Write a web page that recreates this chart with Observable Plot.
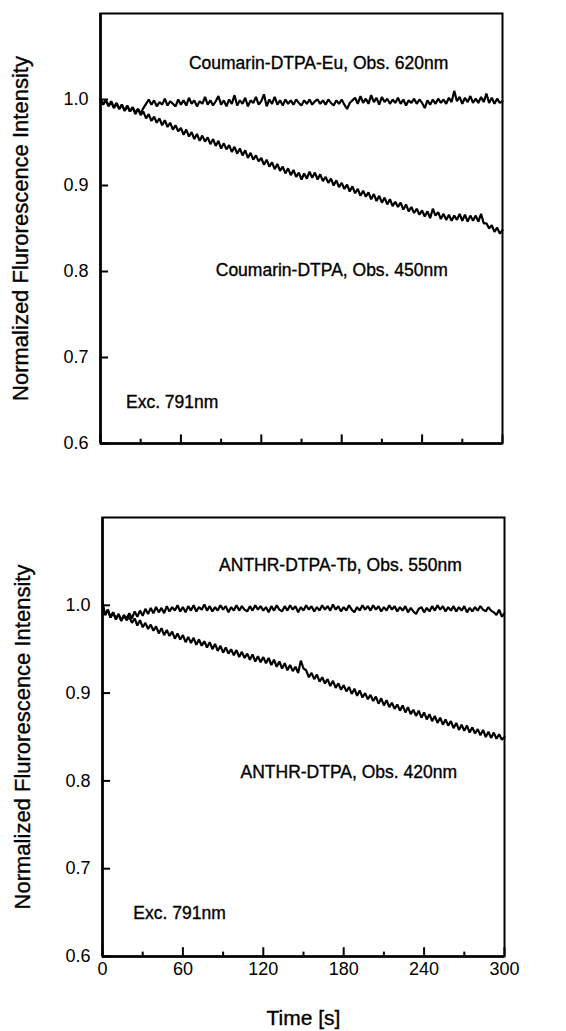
<!DOCTYPE html>
<html><head><meta charset="utf-8">
<script src="https://cdn.jsdelivr.net/npm/d3@7"></script>
<script src="https://cdn.jsdelivr.net/npm/@observablehq/plot@0.6"></script>
<style>
body{margin:0;background:#fff}
#chart{width:566px;height:1031px;position:relative;overflow:hidden}
#chart svg{display:block}
</style>
</head><body><div id="chart"></div>
<script>
// Time axis: 0..300 s, samples evenly spaced (every 2 s) over the run
const xTicks = [0, 60, 120, 180, 240, 300];
const xMinorTicks = [30, 90, 150, 210, 270];
const yTicks = [0.6, 0.7, 0.8, 0.9, 1.0];

// Top panel: Coumarin-DTPA-Eu (Obs. 620nm)
const coumEu620 = [
1.000,0.995,0.999,0.992,0.997,0.990,0.995,0.989,0.994,0.987,
0.992,0.986,0.991,0.985,0.989,0.984,0.990,0.995,1.000,0.994,
0.999,0.992,0.997,0.994,1.001,0.993,0.998,0.995,0.992,1.000,
0.994,0.999,0.993,1.002,0.995,0.999,0.992,0.998,0.995,1.003,
0.994,0.999,0.993,0.998,1.004,0.994,0.999,0.992,1.000,0.995,
1.005,0.993,0.999,0.995,1.002,0.992,0.999,0.996,1.003,0.994,
0.998,1.006,0.992,1.000,0.995,1.003,0.994,0.999,0.993,1.000,
0.995,0.999,0.994,1.000,0.996,0.993,0.999,0.995,1.000,0.994,
0.998,1.000,0.995,0.999,0.994,1.000,0.996,0.993,0.999,0.995,
1.000,0.994,0.989,0.996,0.999,1.002,0.995,1.004,0.996,1.001,
0.995,1.005,0.997,1.002,0.994,1.003,0.997,1.001,0.995,1.000,
0.996,1.002,0.995,1.000,0.993,0.999,0.996,1.001,0.995,1.000,
0.996,0.990,0.999,0.994,1.000,0.995,1.001,0.996,1.000,0.995,
1.002,0.997,1.010,0.998,1.003,0.995,1.002,0.997,1.004,0.996,
1.001,0.996,1.003,0.997,1.007,0.996,1.002,0.995,1.001,0.996,
0.998];
// Top panel: Coumarin-DTPA (Obs. 450nm)
const coum450 = [
1.000,0.994,0.999,0.993,0.998,0.991,0.996,0.989,0.994,0.987,
0.993,0.986,0.991,0.983,0.989,0.982,0.986,0.978,0.983,0.975,
0.980,0.973,0.978,0.970,0.976,0.968,0.973,0.965,0.970,0.963,
0.967,0.959,0.965,0.957,0.962,0.954,0.960,0.952,0.958,0.951,
0.956,0.948,0.954,0.946,0.952,0.943,0.949,0.942,0.947,0.939,
0.945,0.937,0.943,0.935,0.941,0.932,0.938,0.930,0.935,0.928,
0.932,0.924,0.930,0.922,0.927,0.919,0.925,0.917,0.922,0.914,
0.920,0.912,0.918,0.910,0.915,0.907,0.914,0.908,0.916,0.909,
0.915,0.907,0.913,0.905,0.910,0.903,0.908,0.900,0.906,0.898,
0.903,0.896,0.901,0.893,0.899,0.891,0.896,0.888,0.894,0.887,
0.892,0.884,0.890,0.882,0.888,0.880,0.886,0.878,0.884,0.876,
0.881,0.875,0.880,0.872,0.878,0.870,0.875,0.868,0.873,0.866,
0.871,0.864,0.870,0.862,0.873,0.865,0.869,0.861,0.867,0.860,
0.866,0.859,0.865,0.860,0.867,0.859,0.866,0.858,0.865,0.859,
0.865,0.858,0.867,0.856,0.856,0.850,0.854,0.846,0.851,0.844,
0.848];

// Bottom panel: ANTHR-DTPA-Tb (Obs. 550nm)
const anthrTb550 = [
1.004,0.989,0.995,0.986,0.992,0.984,0.990,0.983,0.989,0.985,
0.991,0.985,0.993,0.987,0.994,0.988,0.996,0.990,0.997,0.991,
0.998,0.992,0.997,0.991,0.999,0.993,0.998,0.994,1.000,0.993,
0.998,0.992,0.999,0.994,1.000,0.993,0.998,0.995,1.001,0.994,
0.999,0.993,0.998,0.994,1.000,0.995,0.999,0.992,0.998,0.994,
1.000,0.994,0.999,0.995,0.993,0.999,0.994,1.000,0.995,0.999,
0.994,0.998,0.992,0.999,0.994,1.000,0.995,0.993,0.999,0.994,
1.000,0.995,0.999,0.992,0.998,0.994,1.000,0.995,0.999,0.993,
0.998,0.994,1.000,0.995,0.999,0.994,1.001,0.995,0.999,0.993,
0.998,0.994,1.000,0.995,0.992,0.998,0.994,1.000,0.995,0.999,
0.994,1.000,0.995,0.999,0.993,0.998,0.994,1.000,0.995,0.999,
0.993,0.998,0.994,0.999,0.992,0.997,0.993,0.990,0.996,0.998,
0.992,0.997,0.993,0.999,0.994,1.000,0.995,0.999,0.993,0.998,
0.994,0.999,0.993,0.998,0.994,0.999,0.992,0.997,0.993,0.998,
0.994,0.999,0.995,0.993,0.998,0.994,0.992,0.989,0.995,0.987,
0.991];
// Bottom panel: ANTHR-DTPA (Obs. 420nm)
const anthr420 = [
0.999,0.989,0.995,0.986,0.992,0.984,0.990,0.982,0.988,0.983,
0.987,0.980,0.985,0.977,0.983,0.975,0.980,0.973,0.978,0.971,
0.976,0.968,0.974,0.966,0.972,0.965,0.970,0.962,0.968,0.961,
0.966,0.958,0.964,0.957,0.963,0.955,0.961,0.954,0.959,0.952,
0.958,0.950,0.956,0.948,0.954,0.946,0.952,0.945,0.950,0.943,
0.949,0.941,0.947,0.940,0.945,0.938,0.944,0.936,0.942,0.935,
0.941,0.934,0.940,0.932,0.938,0.930,0.936,0.928,0.934,0.926,
0.932,0.925,0.930,0.923,0.937,0.928,0.926,0.918,0.923,0.916,
0.921,0.913,0.918,0.911,0.916,0.908,0.914,0.906,0.911,0.904,
0.909,0.902,0.907,0.899,0.905,0.897,0.903,0.895,0.900,0.893,
0.898,0.891,0.896,0.888,0.894,0.886,0.892,0.884,0.889,0.882,
0.887,0.880,0.886,0.878,0.884,0.876,0.881,0.874,0.880,0.872,
0.878,0.870,0.876,0.868,0.874,0.866,0.872,0.864,0.870,0.863,
0.868,0.860,0.866,0.858,0.864,0.857,0.863,0.855,0.861,0.854,
0.859,0.852,0.858,0.850,0.856,0.849,0.855,0.848,0.853,0.847,
0.850];

const FONT = "'Liberation Sans', Arial, Helvetica, sans-serif";
const rows = (vals) => vals.map((v, i) => ({t: i * 300 / (vals.length - 1), v}));
const txt = {fill: "#000", stroke: "#000", strokeWidth: 0.35};

function panel({series, labels, height, marginTop, marginBottom, marginLeft, marginRight, showX}) {
  const marks = [
    Plot.frame({strokeWidth: 2}),
    Plot.ruleX([0], {strokeWidth: 2.6}),
    Plot.ruleY([0.6], {strokeWidth: 2.6}),
    Plot.ruleX(xTicks, {x: d => d, y1: 0.6, y2: 0.61, strokeWidth: 2}),
    Plot.ruleX(xMinorTicks, {x: d => d, y1: 0.6, y2: 0.605, strokeWidth: 2}),
    Plot.ruleY(yTicks, {y: d => d, x1: 0, x2: 6, strokeWidth: 2}),
    Plot.axisY({ticks: yTicks, tickSize: 0, tickPadding: 12, tickFormat: d3.format(".1f"), fontSize: 18, label: null, ...txt}),
    Plot.text(["Normalized Flurorescence Intensity"], {frameAnchor: "left", rotate: -90, dx: -80, lineAnchor: "middle", textAnchor: "middle", fontSize: 22, ...txt}),
    ...series.map(s => Plot.line(rows(s), {x: "t", y: "v", strokeWidth: 2.2, stroke: "#000", strokeLinejoin: "miter"})),
    ...labels.map(l => Plot.text([l.text], {x: l.x, y: l.y, textAnchor: "start", lineAnchor: "middle", fontSize: 17.5, ...txt}))
  ];
  if (showX) {
    marks.push(Plot.axisX({ticks: xTicks, tickSize: 0, tickPadding: 6, fontSize: 18, label: null, ...txt}));
    marks.push(Plot.text(["Time [s]"], {frameAnchor: "bottom", dy: 62, lineAnchor: "middle", fontSize: 21, ...txt}));
  }
  return Plot.plot({
    width: 566, height, marginTop, marginBottom, marginLeft, marginRight,
    style: {fontFamily: FONT, color: "#000", background: "#fff"},
    x: {domain: [0, 300], axis: showX ? undefined : null},
    y: {domain: [0.6, 1.1]},
    marks
  });
}

const topPanel = panel({
  series: [coumEu620, coum450],
  labels: [
    {text: "Coumarin-DTPA-Eu, Obs. 620nm", x: 66, y: 1.042},
    {text: "Coumarin-DTPA, Obs. 450nm", x: 86, y: 0.801},
    {text: "Exc. 791nm", x: 19, y: 0.648}
  ],
  height: 480, marginTop: 13, marginBottom: 37, marginLeft: 100, marginRight: 64, showX: false
});
const bottomPanel = panel({
  series: [anthrTb550, anthr420],
  labels: [
    {text: "ANTHR-DTPA-Tb, Obs. 550nm", x: 87, y: 1.046},
    {text: "ANTHR-DTPA, Obs. 420nm", x: 103, y: 0.81},
    {text: "Exc. 791nm", x: 23, y: 0.649}
  ],
  height: 551, marginTop: 37, marginBottom: 75, marginLeft: 102, marginRight: 62, showX: true
});
document.getElementById("chart").append(topPanel, bottomPanel);
</script>
</body></html>
